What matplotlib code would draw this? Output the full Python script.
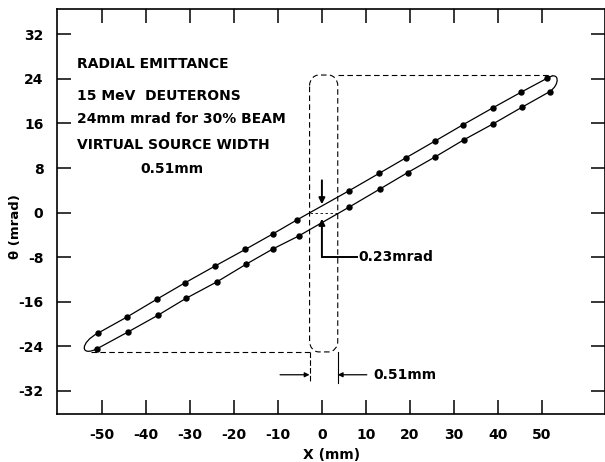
import matplotlib
matplotlib.use("Agg")
import matplotlib.pyplot as plt
from matplotlib.path import Path
from matplotlib.patches import PathPatch
import numpy as np

# ---- data ----
upper_x = [-50.8, -44.2, -37.4, -31.1, -24.2, -17.4, -11.1, -5.75,
           6.1, 13.0, 19.1, 25.8, 32.1, 38.8, 45.2, 51.1]
upper_theta = [-21.6, -18.7, -15.5, -12.6, -9.55, -6.6, -3.8, -1.34,
               3.9, 7.05, 9.85, 12.9, 15.8, 18.8, 21.6, 24.1]
lower_x = [-51.0, -44.0, -37.2, -30.9, -23.8, -17.2, -11.1, -5.3,
           6.2, 13.2, 19.5, 25.7, 32.3, 38.8, 45.4, 51.7]
lower_theta = [-24.4, -21.4, -18.4, -15.4, -12.4, -9.25, -6.5, -4.2,
               1.0, 4.25, 7.2, 10.0, 13.1, 15.9, 18.9, 21.7]

x_ticks = [-50, -40, -30, -20, -10, 0, 10, 20, 30, 40, 50]
y_ticks = [32, 24, 16, 8, 0, -8, -16, -24, -32]

# virtual source box (mm, mrad)
src_left, src_right = -2.8, 3.6
src_top, src_bottom = 24.7, -25.0

info_lines = ["RADIAL EMITTANCE", "15 MeV  DEUTERONS",
              "24mm mrad for 30% BEAM", "VIRTUAL SOURCE WIDTH"]
info_y = [26.6, 21.0, 16.8, 12.2]
width_label = "0.51mm"
div_label = "0.23mrad"

# ---- figure ----
plt.rcParams['font.family'] = ['DejaVu Sans']
fig = plt.figure(figsize=(6.05, 4.62), dpi=100)
ax = fig.add_axes([0.0947, 0.1032, 0.9053, 0.8767])
ax.set_xlim(-60.1, 64.3)
ax.set_ylim(-36.2, 36.5)

for s in ax.spines.values():
    s.set_linewidth(1.2)

ax.set_xticks(x_ticks)
ax.set_xticklabels([str(v) for v in x_ticks], fontsize=10, fontweight='bold')
ax.set_yticks(y_ticks)
ax.set_yticklabels([str(v) for v in y_ticks], fontsize=10, fontweight='bold')
ax.tick_params(direction='in', length=10, width=1.1, top=True, right=True,
               pad=10)
ax.set_xlabel("X (mm)", fontsize=10, fontweight='bold', labelpad=4)
ax.set_ylabel("θ (mrad)", fontsize=9.5, fontweight='bold')
ax.yaxis.set_label_coords(-0.064, 0.463)

lw = 0.9
# emittance lines with dots
ax.plot(upper_x, upper_theta, color='black', lw=lw, marker='o', ms=3.6)
ax.plot(lower_x, lower_theta, color='black', lw=lw, marker='o', ms=3.6)

# end caps
def cap(p0, p1, p2, p3):
    path = Path([p0, p1, p2, p3], [Path.MOVETO, Path.CURVE4, Path.CURVE4, Path.CURVE4])
    ax.add_patch(PathPatch(path, fill=False, lw=lw, color='black'))

cap((lower_x[0], lower_theta[0]), (-55.0, -26.0), (-55.0, -23.3), (upper_x[0], upper_theta[0]))
cap((upper_x[-1], upper_theta[-1]), (54.0, 25.6), (54.2, 23.0), (lower_x[-1], lower_theta[-1]))

# dashed rounded source box
rx, ry = 2.1, 1.9
k = 0.55
verts = [
    (src_left, src_top - ry),
    (src_left, src_top - ry + k * ry), (src_left + rx - k * rx, src_top), (src_left + rx, src_top),
    (src_right - rx, src_top),
    (src_right - rx + k * rx, src_top), (src_right, src_top - ry + k * ry), (src_right, src_top - ry),
    (src_right, src_bottom + ry),
    (src_right, src_bottom + ry - k * ry), (src_right - rx + k * rx, src_bottom), (src_right - rx, src_bottom),
    (src_left + rx, src_bottom),
    (src_left + rx - k * rx, src_bottom), (src_left, src_bottom + ry - k * ry), (src_left, src_bottom + ry),
    (src_left, src_top - ry),
]
codes = [Path.MOVETO,
         Path.CURVE4, Path.CURVE4, Path.CURVE4,
         Path.LINETO,
         Path.CURVE4, Path.CURVE4, Path.CURVE4,
         Path.LINETO,
         Path.CURVE4, Path.CURVE4, Path.CURVE4,
         Path.LINETO,
         Path.CURVE4, Path.CURVE4, Path.CURVE4,
         Path.LINETO]
ax.add_patch(PathPatch(Path(verts, codes), fill=False, lw=0.8, color='black',
                       linestyle=(0, (5, 3))))

# dashed projection lines
ax.plot([src_right, 52.3], [src_top, src_top], color='black', lw=0.8, ls=(0, (5, 3)))
ax.plot([-52.4, src_left], [src_bottom, src_bottom], color='black', lw=0.8, ls=(0, (5, 3)))
ax.plot([src_left, src_right], [0, 0], color='black', lw=0.6, ls=(0, (3, 3)))

# extension lines for width dimension
ax.plot([src_left, src_left], [src_bottom, -30.6], color='black', lw=0.8, ls=(0, (5, 2)))
ax.plot([src_right, src_right], [src_bottom, -30.6], color='black', lw=0.8)

# width dimension arrows
ap = dict(arrowstyle='-|>', color='black', lw=0.9, mutation_scale=7, shrinkA=0, shrinkB=0)
ax.annotate('', xy=(src_left, -29.1), xytext=(-9.5, -29.1), arrowprops=ap)
ax.annotate('', xy=(src_right, -29.1), xytext=(10.2, -29.1), arrowprops=ap)
ax.text(11.8, -29.1, width_label, fontsize=10, fontweight='bold', va='center', ha='left')

# divergence arrows
ap2 = dict(arrowstyle='-|>', color='black', lw=1.4, mutation_scale=9, shrinkA=0, shrinkB=0)
ax.annotate('', xy=(0, 1.5), xytext=(0, 5.8), arrowprops=ap2)
ax.annotate('', xy=(0, -1.1), xytext=(0, -8.0), arrowprops=ap2)
ax.plot([0, 8.0], [-8.0, -8.0], color='black', lw=1.4)
ax.text(8.2, -8.0, div_label, fontsize=10, fontweight='bold', va='center', ha='left')

# info text
for t, yv in zip(info_lines, info_y):
    ax.text(-55.6, yv, t, fontsize=10, fontweight='bold', va='center', ha='left')
ax.text(-41.2, 7.9, width_label, fontsize=10, fontweight='bold', va='center', ha='left')

fig.savefig("out.png", dpi=100)
